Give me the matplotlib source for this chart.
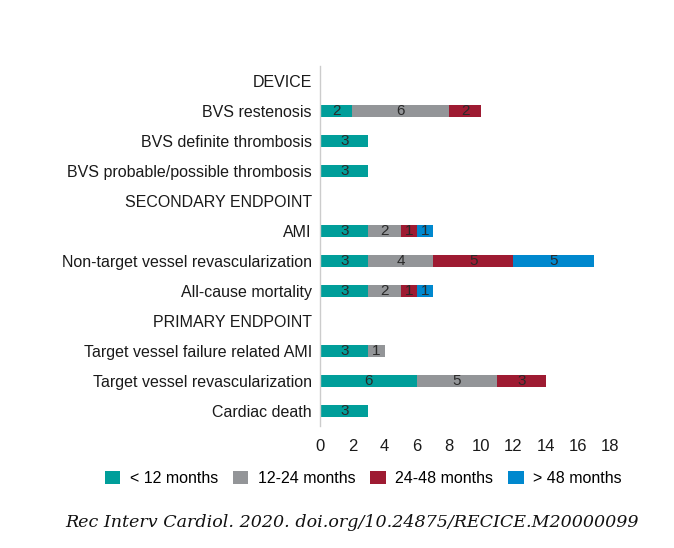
import matplotlib
matplotlib.use("Agg")
import matplotlib.pyplot as plt
from matplotlib.patches import Patch
import numpy as np

categories = [
    "DEVICE",
    "BVS restenosis",
    "BVS definite thrombosis",
    "BVS probable/possible thrombosis",
    "SECONDARY ENDPOINT",
    "AMI",
    "Non-target vessel revascularization",
    "All-cause mortality",
    "PRIMARY ENDPOINT",
    "Target vessel failure related AMI",
    "Target vessel revascularization",
    "Cardiac death",
]
series_names = ["< 12 months", "12-24 months", "24-48 months", "> 48 months"]
lt12 = [0, 2, 3, 3, 0, 3, 3, 3, 0, 3, 6, 3]
m12_24 = [0, 6, 0, 0, 0, 2, 4, 2, 0, 1, 5, 0]
m24_48 = [0, 2, 0, 0, 0, 1, 5, 1, 0, 0, 3, 0]
gt48 = [0, 0, 0, 0, 0, 1, 5, 1, 0, 0, 0, 0]
xticks = [0, 2, 4, 6, 8, 10, 12, 14, 16, 18]
colors = ["#009e9a", "#939598", "#9e1b32", "#0088ce"]

plt.rcParams['font.family'] = ['Liberation Sans', 'DejaVu Sans']
fig = plt.figure(figsize=(6.74, 5.48), dpi=100)
ax = fig.add_axes([0.475, 0.2226, 0.43, 0.657])

y = np.arange(len(categories))
left = np.zeros(len(categories))
for name, vals, c in zip(series_names, [lt12, m12_24, m24_48, gt48], colors):
    vals = np.array(vals, dtype=float)
    bars = ax.barh(y, vals, left=left, height=0.43, color=c, label=name)
    for b, v, l in zip(bars, vals, left):
        if v > 0:
            ax.text(l + v / 2, b.get_y() + b.get_height() / 2, f"{int(v)}",
                    ha="center", va="center", fontsize=11, color="#2a2a2a")
    left += vals

ax.set_ylim(len(categories) - 0.5, -0.5)
ax.set_xlim(0, 18)
ax.set_yticks(y)
ax.set_yticklabels(categories, fontsize=11.5, color="#1a1a1a")
ax.set_xticks(xticks)
ax.set_xticklabels([str(t) for t in xticks], fontsize=12, color="#1a1a1a")
ax.tick_params(axis="y", length=0, pad=6)
ax.tick_params(axis="x", length=0, pad=9)
for s in ["top", "right", "bottom"]:
    ax.spines[s].set_visible(False)
ax.spines["left"].set_color("#cccccc")
ax.spines["left"].set_linewidth(1.0)

handles = [Patch(facecolor=c, edgecolor="none") for c in colors]
fig.legend(handles, series_names, loc="center", bbox_to_anchor=(0.539, 0.127),
           ncol=4, frameon=False, fontsize=11.5, handlelength=0.95, handleheight=0.95,
           columnspacing=0.95, handletextpad=0.6)

fig.text(0.523, 0.046, "Rec Interv Cardiol. 2020. doi.org/10.24875/RECICE.M20000099",
         ha="center", va="center", fontsize=12.6, style="italic",
         family=["DejaVu Serif"], color="#111111")

fig.savefig("out.png", dpi=100)
